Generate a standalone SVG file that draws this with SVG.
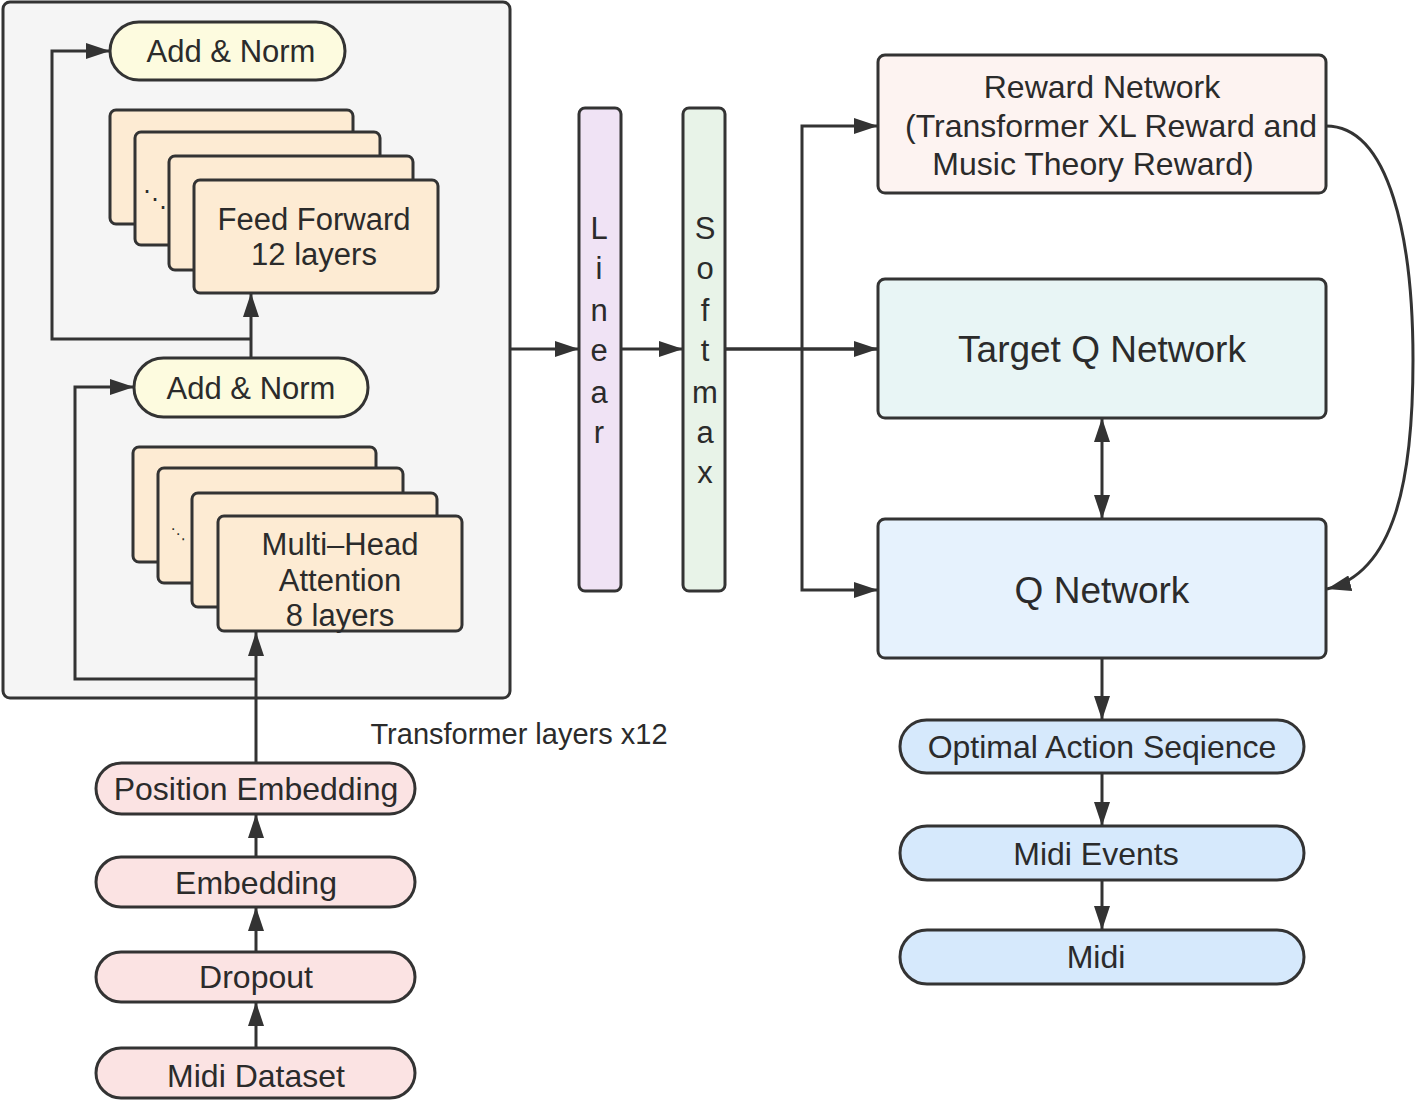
<svg xmlns="http://www.w3.org/2000/svg" width="1418" height="1101" viewBox="0 0 1418 1101">
<style>
text{font-family:"Liberation Sans",Arial,sans-serif;fill:#2b2b2b;text-anchor:middle;dominant-baseline:central;}
.s{stroke:#333;stroke-width:3;}
.ln{fill:none;stroke:#333;stroke-width:3;}
.yel{fill:#fdfbdf;}
.org{fill:#fdebd3;}
.pink{fill:#fbe3e3;}
.blue{fill:#d6e9fc;}
.t30{font-size:30px;}
.t31{font-size:32px;}
.t36{font-size:37px;}
.v{font-size:31px;}
</style>
<defs>
<marker id="ah" viewBox="0 0 24 16" refX="24" refY="8" markerWidth="24" markerHeight="16" markerUnits="userSpaceOnUse" orient="auto-start-reverse">
<path d="M0,0 L24,8 L0,16 z" fill="#333"/>
</marker>
</defs>
<rect width="1418" height="1101" fill="#ffffff"/>

<g id="transformer-block">
<rect x="3" y="2" width="507" height="696" rx="7" fill="#f5f5f5" class="s"/>
</g>

<g id="add-norm-top">
<rect x="110" y="22" width="235" height="58" rx="29" class="yel s"/>
<text x="231" y="51" class="t30" style="font-size:31px">Add &amp; Norm</text>
</g>

<g id="feed-forward">
<rect x="110" y="110" width="243" height="114" rx="6" class="org s"/>
<rect x="135" y="132" width="245" height="113" rx="6" class="org s"/>
<rect x="169" y="156" width="244" height="114" rx="6" class="org s"/>
<rect x="194" y="180" width="244" height="113" rx="6" class="org s"/>
<text x="155" y="199" style="font-family:'DejaVu Sans',sans-serif;font-size:24px">⋱</text>
<text x="314" y="219" class="t30" style="font-size:31px">Feed Forward</text>
<text x="314" y="254" class="t30" style="font-size:31px">12 layers</text>
</g>

<g id="add-norm-bottom">
<rect x="134" y="358" width="234" height="59" rx="29.5" class="yel s"/>
<text x="251" y="388" class="t30" style="font-size:31px">Add &amp; Norm</text>
</g>

<g id="multi-head-attention">
<rect x="133" y="447" width="243" height="115" rx="6" class="org s"/>
<rect x="158" y="468" width="245" height="115" rx="6" class="org s"/>
<rect x="192" y="493" width="245" height="114" rx="6" class="org s"/>
<rect x="218" y="516" width="244" height="115" rx="6" class="org s"/>
<text x="178" y="534" style="font-family:'DejaVu Sans',sans-serif;font-size:15px">⋱</text>
<text x="340" y="544" class="t30" style="font-size:31px">Multi–Head</text>
<text x="340" y="580" class="t30" style="font-size:31px">Attention</text>
<text x="340" y="615" class="t30" style="font-size:31px">8 layers</text>
</g>

<text x="519" y="734" id="transformer-label" style="font-size:29px">Transformer layers x12</text>

<g id="position-embedding">
<rect x="96" y="763" width="319" height="51" rx="25.5" class="pink s"/>
<text x="256" y="789" class="t31">Position Embedding</text>
</g>
<g id="embedding">
<rect x="96" y="857" width="319" height="50" rx="25" class="pink s"/>
<text x="256" y="883" class="t31">Embedding</text>
</g>
<g id="dropout">
<rect x="96" y="952" width="319" height="50" rx="25" class="pink s"/>
<text x="256" y="977" class="t31">Dropout</text>
</g>
<g id="midi-dataset">
<rect x="96" y="1048" width="319" height="50" rx="25" class="pink s"/>
<text x="256" y="1076" class="t31">Midi Dataset</text>
</g>

<g id="linear">
<rect x="579" y="108" width="42" height="483" rx="6" fill="#f0e3f5" class="s"/>
<text x="599" y="228" class="v">L</text>
<text x="599" y="268" class="v">i</text>
<text x="599" y="310" class="v">n</text>
<text x="599" y="350" class="v">e</text>
<text x="599" y="392" class="v">a</text>
<text x="599" y="432" class="v">r</text>
</g>

<g id="softmax">
<rect x="683" y="108" width="42" height="483" rx="6" fill="#e8f3e8" class="s"/>
<text x="705" y="228" class="v">S</text>
<text x="705" y="268" class="v">o</text>
<text x="705" y="310" class="v">f</text>
<text x="705" y="350" class="v">t</text>
<text x="705" y="392" class="v">m</text>
<text x="705" y="432" class="v">a</text>
<text x="705" y="472" class="v">x</text>
</g>

<g id="reward-network">
<rect x="878" y="55" width="448" height="138" rx="7" fill="#fdf3f1" class="s"/>
<text x="1102" y="87" class="t31">Reward Network</text>
<text x="1111" y="126" class="t31">(Transformer XL Reward and</text>
<text x="1093" y="164" class="t31">Music Theory Reward)</text>
</g>

<g id="target-q-network">
<rect x="878" y="279" width="448" height="139" rx="7" fill="#e8f5f5" class="s"/>
<text x="1102" y="349" class="t36">Target Q Network</text>
</g>

<g id="q-network">
<rect x="878" y="519" width="448" height="139" rx="7" fill="#e6f2fd" class="s"/>
<text x="1102" y="590" class="t36">Q Network</text>
</g>

<g id="optimal-action-sequence">
<rect x="900" y="720" width="404" height="53" rx="26.5" class="blue s"/>
<text x="1102" y="747" class="t31">Optimal Action Seqience</text>
</g>
<g id="midi-events">
<rect x="900" y="826" width="404" height="54" rx="27" class="blue s"/>
<text x="1096" y="854" class="t31">Midi Events</text>
</g>
<g id="midi">
<rect x="900" y="930" width="404" height="54" rx="27" class="blue s"/>
<text x="1096" y="957" class="t31">Midi</text>
</g>

<g id="connectors">
<path class="ln" d="M256,763 V632" marker-end="url(#ah)"/>
<path class="ln" d="M256,679 H75 V387 H134" marker-end="url(#ah)"/>
<path class="ln" d="M251,358 V293" marker-end="url(#ah)"/>
<path class="ln" d="M251,339 H52 V51 H110" marker-end="url(#ah)"/>
<path class="ln" d="M256,857 V814" marker-end="url(#ah)"/>
<path class="ln" d="M256,952 V907" marker-end="url(#ah)"/>
<path class="ln" d="M256,1048 V1002" marker-end="url(#ah)"/>
<path class="ln" d="M510,349 H579" marker-end="url(#ah)"/>
<path class="ln" d="M621,349 H683" marker-end="url(#ah)"/>
<path class="ln" d="M725,349 H878" marker-end="url(#ah)" style="stroke-width:3.5"/>
<path class="ln" d="M802,349 V126 H878" marker-end="url(#ah)"/>
<path class="ln" d="M802,349 V590 H878" marker-end="url(#ah)"/>
<path class="ln" d="M1102,418 V519" marker-start="url(#ah)" marker-end="url(#ah)"/>
<path class="ln" d="M1326,126 C1390,126 1413,240 1413,360 C1413,480 1395,572 1327,589" marker-end="url(#ah)"/>
<path class="ln" d="M1102,658 V720" marker-end="url(#ah)"/>
<path class="ln" d="M1102,773 V826" marker-end="url(#ah)"/>
<path class="ln" d="M1102,880 V930" marker-end="url(#ah)"/>
</g>
</svg>
